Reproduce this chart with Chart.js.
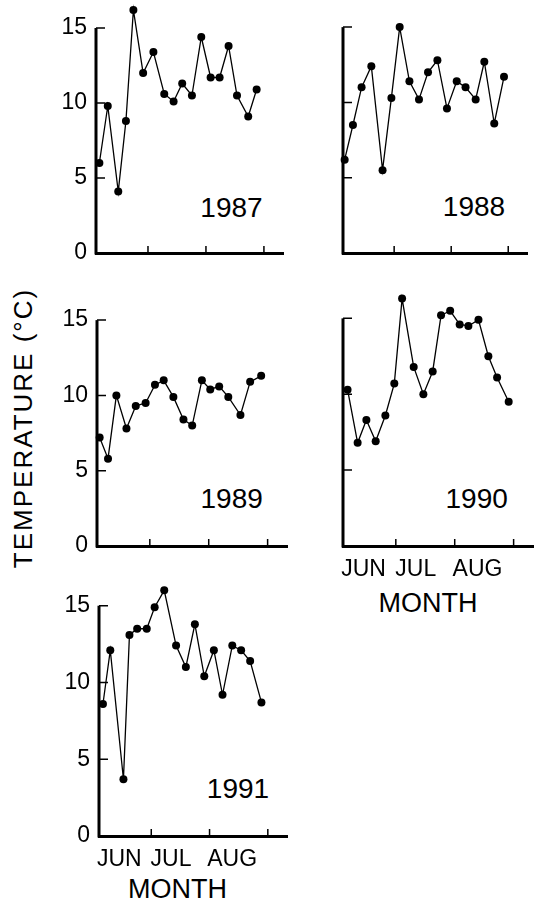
<!DOCTYPE html>
<html>
<head>
<meta charset="utf-8">
<script src="https://cdn.jsdelivr.net/npm/chart.js@4/dist/chart.umd.min.js"></script>
<style>
  body { margin: 0; background: #fff; width: 536px; height: 904px; position: relative; overflow: hidden;
         font-family: 'Liberation Sans', Arial, sans-serif; color: #000; }
  canvas { position: absolute; }
  .txt { position: absolute; white-space: nowrap; line-height: 1; transform: translate(-50%, -50%); }
  .ytitle { position: absolute; white-space: nowrap; line-height: 1; font-size: 26px; letter-spacing: 2px;
            transform: translate(-50%, -50%) rotate(-90deg); }
</style>
</head>
<body>
<div class="ytitle" style="left:22.5px;top:428px">TEMPERATURE (°C)</div>
<div id="labels"></div>
<script>
// days counted from 1 June, temperatures in °C
const years = ['1987', '1988', '1989', '1990', '1991'];

const days1987 = [4.0, 8.5, 14.1, 18.2, 22.2, 27.4, 32.9, 38.7, 43.7, 48.3, 53.5, 58.5, 63.5, 68.3, 73.1, 77.6, 83.6, 88.1];
const temp1987 = [6.0, 9.8, 4.1, 8.8, 16.2, 12.0, 13.4, 10.6, 10.1, 11.3, 10.5, 14.4, 11.7, 11.7, 13.8, 10.5, 9.1, 10.9];

const days1988 = [3.1, 7.6, 12.3, 17.6, 23.7, 28.5, 33.0, 38.3, 43.5, 48.4, 53.5, 58.7, 64.0, 68.8, 74.3, 79.0, 84.4, 89.7];
const temp1988 = [6.2, 8.5, 11.0, 12.4, 5.5, 10.3, 15.0, 11.4, 10.2, 12.0, 12.8, 9.6, 11.4, 11.0, 10.2, 12.7, 8.6, 11.7];

const days1989 = [3.6, 8.0, 12.4, 17.7, 22.6, 27.8, 32.7, 37.3, 42.4, 47.7, 52.3, 57.4, 61.8, 66.5, 71.3, 77.7, 82.8, 88.6];
const temp1989 = [7.2, 5.8, 10.0, 7.8, 9.3, 9.5, 10.7, 11.0, 9.9, 8.4, 8.0, 11.0, 10.4, 10.6, 9.9, 8.7, 10.9, 11.3];

const days1990 = [4.6, 9.9, 14.5, 19.4, 24.5, 29.2, 33.3, 39.4, 44.5, 49.4, 53.8, 58.6, 63.6, 68.2, 73.5, 78.7, 83.3, 89.4];
const temp1990 = [10.3, 6.8, 8.3, 6.9, 8.6, 10.7, 16.3, 11.8, 10.0, 11.5, 15.2, 15.5, 14.6, 14.5, 14.9, 12.5, 11.1, 9.5];

const days1991 = [4.3, 8.2, 15.2, 18.4, 22.5, 27.6, 31.8, 36.9, 43.2, 48.4, 53.2, 58.2, 63.3, 67.9, 73.1, 77.8, 82.6, 88.6];
const temp1991 = [8.6, 12.1, 3.7, 13.1, 13.5, 13.5, 14.9, 16.0, 12.4, 11.0, 13.8, 10.4, 12.1, 9.2, 12.4, 12.1, 11.4, 8.7];

const monthNames = ['JUN', 'JUL', 'AUG'];
const monthLabelDays = [13, 40.5, 73];
const monthTicks = [30, 61, 92];
const tempTicks = [0, 5, 10, 15];

const X_MIN = 2.2, X_MAX = 102.2;
const Y_TOP = 15, Y_MAX = 17;   // axis drawn up to 15, room above for the highest points
const AXIS_W = 50, PAD_T = 4, PAD_R = 6;

// plot boxes: [left, top(15°C), right, bottom(0°C)]
const panels = [
  { days: days1987, temps: temp1987, box: [96, 28, 283, 253], yLabels: true, months: false, year: [231.5, 208] },
  { days: days1988, temps: temp1988, box: [343, 27, 527, 253], yLabels: false, months: false, year: [474, 207] },
  { days: days1989, temps: temp1989, box: [97, 320, 287, 546], yLabels: true, months: false, year: [231.7, 498.5] },
  { days: days1990, temps: temp1990, box: [343, 318, 533, 546], yLabels: false, months: true, year: [476.7, 499], title: [428, 602.5] },
  { days: days1991, temps: temp1991, box: [99, 606, 287, 836], yLabels: true, months: true, year: [238, 788.5], title: [177.5, 889] }
];

// y axis line only up to 15, tick marks pointing into the plot
const axisMarks = {
  id: 'axisMarks',
  afterDraw(chart) {
    const { ctx, chartArea: a, scales: { x, y } } = chart;
    ctx.save();
    ctx.strokeStyle = '#000';
    ctx.lineWidth = 3;
    ctx.beginPath();
    ctx.moveTo(a.left, y.getPixelForValue(0) + 1.5);
    ctx.lineTo(a.left, y.getPixelForValue(Y_TOP));
    ctx.stroke();
    ctx.lineWidth = 1.5;
    ctx.beginPath();
    tempTicks.forEach(v => {
      if (v === 0) return;
      const py = y.getPixelForValue(v);
      ctx.moveTo(a.left, py);
      ctx.lineTo(a.left + 9, py);
    });
    monthTicks.forEach(v => {
      const px = x.getPixelForValue(v);
      ctx.moveTo(px, a.bottom);
      ctx.lineTo(px, a.bottom - 7);
    });
    ctx.stroke();
    ctx.restore();
  }
};

Chart.defaults.font.family = "'Liberation Sans', Arial, sans-serif";
Chart.defaults.color = '#000';

const labels = document.getElementById('labels');
function addText(txt, pos, size) {
  const d = document.createElement('div');
  d.className = 'txt';
  d.style.left = pos[0] + 'px';
  d.style.top = pos[1] + 'px';
  d.style.fontSize = size + 'px';
  d.textContent = txt;
  labels.appendChild(d);
}

panels.forEach((p, i) => {
  const [L, T, R, B] = p.box;
  const xh = p.months ? 40 : 16;
  const ext = (Y_MAX - Y_TOP) * (B - T) / Y_TOP;
  const cv = document.createElement('canvas');
  cv.width = R - L + AXIS_W + PAD_R;
  cv.height = Math.round(B - T + ext + PAD_T + xh);
  cv.style.left = (L - AXIS_W) + 'px';
  cv.style.top = (B + xh - cv.height) + 'px';
  document.body.appendChild(cv);

  new Chart(cv, {
    type: 'line',
    data: {
      datasets: [{
        data: p.days.map((d, k) => ({ x: d, y: p.temps[k] })),
        borderColor: '#000',
        borderWidth: 1.3,
        pointRadius: 4,
        pointBackgroundColor: '#000',
        pointBorderWidth: 0,
        tension: 0,
        clip: false
      }]
    },
    options: {
      responsive: false,
      animation: false,
      devicePixelRatio: 1,
      layout: { padding: { top: PAD_T, right: PAD_R, left: 0, bottom: 0 } },
      plugins: { legend: { display: false }, tooltip: { enabled: false } },
      scales: {
        x: {
          type: 'linear', min: X_MIN, max: X_MAX,
          grid: { display: false, drawTicks: false },
          border: { display: true, width: 3, color: '#000' },
          ticks: {
            display: p.months, autoSkip: false, maxRotation: 0, padding: 10,
            font: { size: 23 },
            callback: (v, idx) => monthNames[idx]
          },
          afterBuildTicks: s => { s.ticks = monthLabelDays.map(v => ({ value: v })); },
          afterFit: s => { s.height = xh; s.paddingLeft = 0; s.paddingRight = 0; }
        },
        y: {
          min: 0, max: Y_MAX,
          grid: { display: false, drawTicks: false },
          border: { display: false },
          ticks: { display: p.yLabels, padding: 9, font: { size: 23 } },
          afterBuildTicks: s => { s.ticks = tempTicks.map(v => ({ value: v })); },
          afterFit: s => { s.width = AXIS_W; s.paddingTop = 0; s.paddingBottom = 0; }
        }
      }
    },
    plugins: [axisMarks]
  });

  addText(years[i], p.year, 28);
  if (p.title) addText('MONTH', p.title, 27);
});
</script>
</body>
</html>
